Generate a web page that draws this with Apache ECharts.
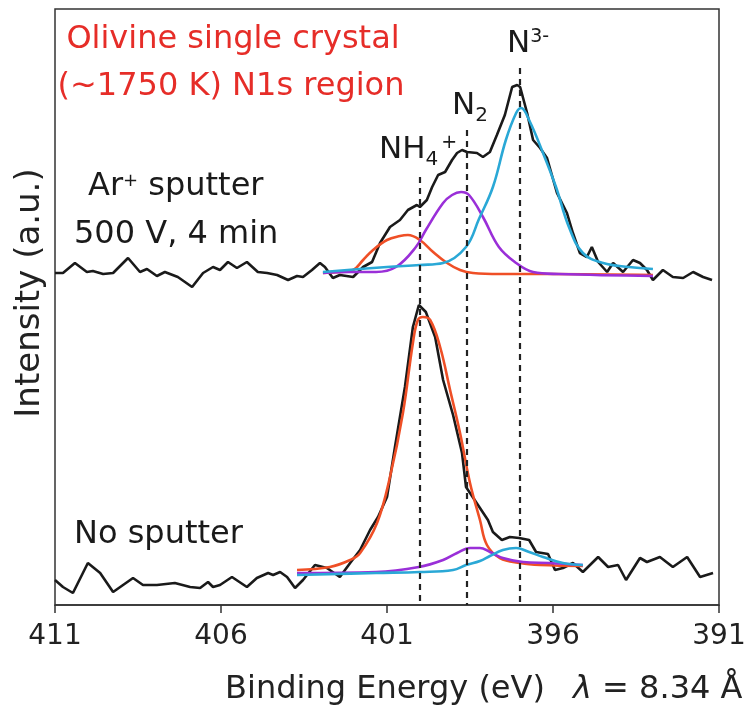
<!DOCTYPE html>
<html>
<head>
<meta charset="utf-8">
<script src="https://cdn.jsdelivr.net/npm/echarts@6/dist/echarts.min.js"></script>
<style>
  html, body { margin: 0; background: #fff; }
  #chart { width: 752px; height: 722px; }
</style>
</head>
<body>
<div id="chart"></div>
<script>
// binding energy (eV) / intensity (a.u.)
const sputteredSpectrum = [[411.00,332],[410.76,332],[410.40,342],[410.04,333],[409.86,334],[409.55,331],[409.25,332],[408.80,347],[408.44,333],[408.23,336],[407.93,329],[407.69,333],[407.30,328],[406.87,318],[406.54,332],[406.24,338],[406.03,335],[405.79,343],[405.52,337],[405.22,343],[404.89,333],[404.61,332],[404.31,330],[403.98,325],[403.71,329],[403.53,328],[403.26,335],[403.02,342],[402.87,338],[402.63,327],[402.42,330],[402.02,328],[401.72,338],[401.45,343],[401.21,362],[400.91,378],[400.61,385],[400.37,395],[400.10,400],[400.01,398],[399.80,405],[399.64,418],[399.46,430],[399.25,433],[399.04,445],[398.89,452],[398.74,455],[398.59,453],[398.29,452],[398.11,448],[397.90,453],[397.69,470],[397.45,490],[397.23,518],[397.08,520],[396.99,518],[396.78,492],[396.60,465],[396.39,457],[396.18,447],[395.88,412],[395.58,392],[395.40,372],[395.19,352],[394.98,348],[394.83,358],[394.64,343],[394.37,333],[394.19,342],[393.89,333],[393.59,345],[393.38,342],[393.17,335],[392.99,325],[392.69,335],[392.39,328],[392.08,327],[391.78,333],[391.48,328],[391.21,325]];
const sputteredNH4 = [[402.93,332],[402.42,333],[402.02,335],[401.72,345],[401.42,355],[401.00,365],[400.61,369],[400.37,370],[400.01,365],[399.61,353],[399.19,342],[398.80,335],[398.41,332],[397.60,331],[396.09,331],[392.99,330]];
const sputteredN2 = [[402.93,332],[402.11,333],[401.33,333],[400.73,338],[400.13,358],[399.83,375],[399.31,402],[399.04,410],[398.77,413],[398.53,410],[398.11,388],[397.63,358],[397.11,342],[396.60,333],[395.82,331],[392.99,329]];
const sputteredN3 = [[402.93,333],[401.00,338],[400.01,340],[399.31,342],[398.62,358],[398.23,386],[397.81,418],[397.42,465],[397.11,492],[396.96,497],[396.72,485],[396.30,452],[395.91,418],[395.52,378],[395.10,352],[394.49,342],[393.71,338],[392.99,336]];

const pristineSpectrum = [[411.00,25],[410.76,18],[410.46,12],[410.01,42],[409.64,32],[409.25,13],[408.65,27],[408.35,20],[407.93,20],[407.39,22],[406.93,18],[406.63,17],[406.39,23],[406.24,18],[406.03,20],[405.67,28],[405.22,18],[404.92,27],[404.58,32],[404.43,30],[404.22,33],[404.01,28],[403.77,17],[403.53,25],[403.17,40],[402.81,37],[402.42,28],[402.11,42],[401.81,55],[401.51,75],[401.27,88],[401.00,108],[400.76,158],[400.46,218],[400.22,278],[400.04,300],[399.83,293],[399.55,268],[399.31,225],[399.01,190],[398.74,152],[398.62,118],[398.26,100],[397.96,85],[397.81,73],[397.54,65],[397.30,68],[397.02,67],[396.72,65],[396.51,53],[396.15,51],[395.94,35],[395.70,37],[395.40,42],[395.10,33],[394.64,48],[394.34,38],[394.04,40],[393.80,25],[393.38,47],[393.17,43],[392.78,48],[392.39,38],[391.96,48],[391.57,28],[391.18,32]];
const pristineNH4 = [[403.71,35],[402.72,38],[402.11,45],[401.81,52],[401.30,82],[400.91,128],[400.52,192],[400.22,262],[400.07,285],[399.92,288],[399.70,285],[399.40,258],[399.10,215],[398.80,172],[398.50,122],[398.20,85],[397.99,60],[397.60,47],[396.99,42],[396.39,40],[395.10,39]];
const pristineN2 = [[403.71,32],[401.33,33],[400.04,38],[399.31,45],[398.89,52],[398.50,57],[398.20,57],[397.90,53],[397.51,47],[396.90,43],[396.12,42],[395.10,40]];
const pristineN3 = [[403.71,30],[401.33,32],[400.01,33],[399.01,35],[398.62,40],[398.20,44],[397.90,49],[397.51,55],[397.11,57],[396.72,53],[396.30,48],[395.70,42],[395.10,40]];

// peak positions (eV) and how high each dashed guide reaches
const peakEnergies = [400.0, 398.6, 397.0];
const peakLineTops = [428, 475, 537];

const xTicks = { min: 391, max: 411, step: 5 };

const FONT = "DejaVu Sans";
const BLACK = "#1a1a1a";
const RED = "#e62d28";
const ORANGE = "#ef4f26";
const PURPLE = "#9a2fd8";
const CYAN = "#2aa8d6";

const chart = echarts.init(document.getElementById("chart"));

function curve(name, data, color, smooth) {
  return {
    name: name,
    type: "line",
    data: data,
    showSymbol: false,
    smooth: smooth,
    silent: true,
    lineStyle: { color: color, width: 2.6 },
  };
}

function label(text, x, y, size, color, align) {
  return {
    type: "text",
    x: x,
    y: y,
    style: {
      text: text,
      font: size + "px '" + FONT + "'",
      fill: color || BLACK,
      align: align || "left",
      verticalAlign: "middle",
    },
  };
}

// text with sub/superscripts: pieces laid out left to right
const measureCtx = document.createElement("canvas").getContext("2d");
function chem(x, y, pieces) {
  const out = [];
  let cx = x;
  pieces.forEach((p) => {
    const font = p.size + "px '" + FONT + "'";
    out.push(label(p.t, cx, y + (p.dy || 0), p.size));
    measureCtx.font = font;
    cx += measureCtx.measureText(p.t).width + (p.gap || 0);
  });
  return out;
}

const options = {
  animation: false,
  grid: {
    left: 55,
    right: 33,
    top: 9,
    bottom: 117,
    show: true,
    borderColor: "#333",
    borderWidth: 1.5,
  },
  xAxis: {
    type: "value",
    min: xTicks.min,
    max: xTicks.max,
    interval: xTicks.step,
    inverse: true,
    axisLine: { lineStyle: { color: "#333", width: 1.5 } },
    axisTick: { length: 8, lineStyle: { color: "#333", width: 1.5 } },
    axisLabel: { fontFamily: FONT, fontSize: 28, color: "#222", margin: 18 },
    splitLine: { show: false },
  },
  yAxis: {
    type: "value",
    min: 0,
    max: 596,
    show: false,
  },
  series: [
    curve("Ar+ sputter", sputteredSpectrum, BLACK, false),
    curve("NH4+ (sputter)", sputteredNH4, ORANGE, 0.4),
    curve("N2 (sputter)", sputteredN2, PURPLE, 0.4),
    curve("N3- (sputter)", sputteredN3, CYAN, 0.4),
    curve("No sputter", pristineSpectrum, BLACK, false),
    curve("NH4+", pristineNH4, ORANGE, 0.4),
    curve("N2", pristineN2, PURPLE, 0.4),
    curve("N3-", pristineN3, CYAN, 0.4),
    {
      name: "peaks",
      type: "line",
      data: [],
      silent: true,
      markLine: {
        symbol: "none",
        silent: true,
        animation: false,
        label: { show: false },
        lineStyle: { color: "#222", width: 2.2, type: [6, 5] },
        data: peakEnergies.map((e, i) => [
          { coord: [e, peakLineTops[i]] },
          { coord: [e, 0] },
        ]),
      },
    },
  ],
  graphic: [
    label("Olivine single crystal", 233, 40, 32, RED, "center"),
    label("(~1750 K) N1s region", 231, 87, 32, RED, "center"),
    ...chem(88, 187, [
      { t: "Ar", size: 32 },
      { t: "+", size: 18, dy: -6 },
      { t: " sputter", size: 32 },
    ]),
    label("500 V, 4 min", 74, 235, 32),
    label("No sputter", 74, 535, 32),
    ...chem(507, 44, [
      { t: "N", size: 31 },
      { t: "3-", size: 19, dy: -7 },
    ]),
    ...chem(452, 106, [
      { t: "N", size: 31 },
      { t: "2", size: 20, dy: 10 },
    ]),
    ...chem(379, 150, [
      { t: "NH", size: 31 },
      { t: "4", size: 20, dy: 10, gap: 3 },
      { t: "+", size: 19, dy: -7 },
    ]),
    label("Binding Energy (eV)", 385, 690, 32, "#222", "center"),
    {
      type: "text",
      x: 573,
      y: 690,
      style: {
        text: "{i|\u03BB} = 8.34 \u00C5",
        font: "32px '" + FONT + "'",
        fill: "#222",
        align: "left",
        verticalAlign: "middle",
        rich: { i: { fontStyle: "italic", fontFamily: FONT, fontSize: 32, fill: "#222" } },
      },
    },
    {
      type: "text",
      x: 30,
      y: 293,
      rotation: Math.PI / 2,
      style: {
        text: "Intensity (a.u.)",
        font: "34px '" + FONT + "'",
        fill: "#222",
        align: "center",
        verticalAlign: "middle",
      },
    },
  ],
};

chart.setOption(options);
</script>
</body>
</html>
